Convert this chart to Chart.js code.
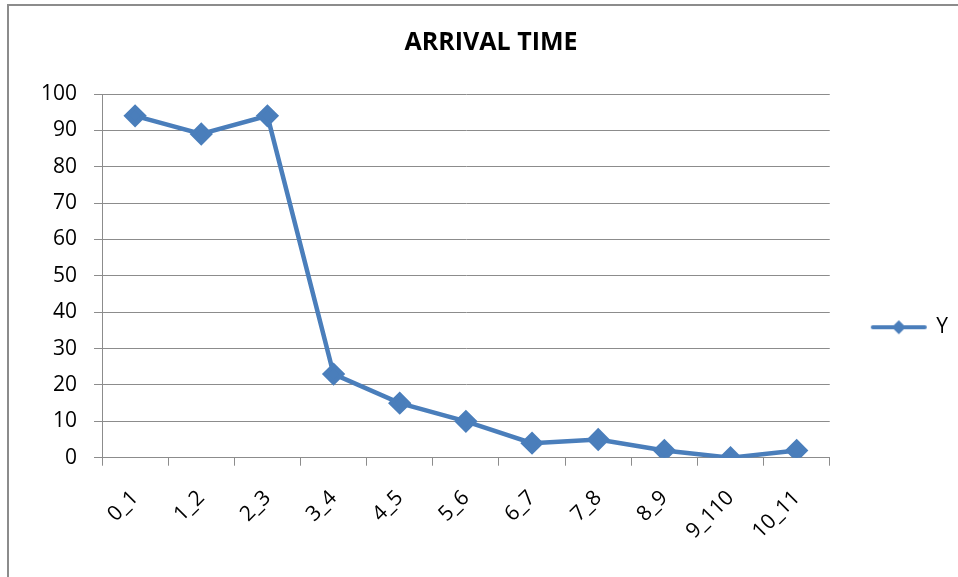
<!DOCTYPE html>
<html>
<head>
<meta charset="utf-8">
<script src="https://cdn.jsdelivr.net/npm/chart.js@4"></script>
<style>
  html, body { margin: 0; padding: 0; background: #fff; }
  #wrap { position: relative; width: 958px; height: 577px; overflow: hidden; }
  #frame { position: absolute; left: 7px; top: 4px; width: 1000px; height: 1000px;
           border-left: 2px solid #8c8c8c; border-top: 2px solid #8c8c8c; }
  canvas { position: absolute; left: 0; top: 0; }
</style>
</head>
<body>
<div id="wrap">
  <div id="frame"></div>
  <canvas id="myChart" width="958" height="577"></canvas>
</div>
<script>
const categories = ['0_1', '1_2', '2_3', '3_4', '4_5', '5_6', '6_7', '7_8', '8_9', '9_110', '10_11'];
const yValues = [94, 89, 94, 23, 15, 10, 4, 5, 2, 0, 2];
const yTicks = [0, 10, 20, 30, 40, 50, 60, 70, 80, 90, 100];

const blue = '#4a7ebb';
const fontFamily = "'Open Sans', 'Liberation Sans', sans-serif";

// legend marker: line with a diamond in the middle
const marker = document.createElement('canvas');
marker.width = 58;
marker.height = 18;
const m = marker.getContext('2d');
m.strokeStyle = blue;
m.lineWidth = 4;
m.lineCap = 'round';
m.beginPath();
m.moveTo(3, 9);
m.lineTo(55, 9);
m.stroke();
m.fillStyle = blue;
m.beginPath();
m.moveTo(29, 2);
m.lineTo(36, 9);
m.lineTo(29, 16);
m.lineTo(22, 9);
m.closePath();
m.fill();

const ctx = document.getElementById('myChart').getContext('2d');
const myChart = new Chart(ctx, {
    type: 'line',
    data: {
        labels: categories,
        datasets: [{
            label: 'Y',
            data: yValues,
            borderColor: blue,
            backgroundColor: blue,
            borderWidth: 4.5,
            pointStyle: 'rectRot',
            pointRadius: 8.5,
            pointHoverRadius: 8.5,
            fill: false,
            tension: 0
        }]
    },
    options: {
        responsive: false,
        animation: false,
        layout: { padding: { left: 24, right: 0, top: 6, bottom: 13 } },
        plugins: {
            title: {
                display: true,
                text: 'ARRIVAL TIME',
                color: '#000',
                font: { family: fontFamily, size: 25, weight: 'bold' },
                padding: { top: 22, bottom: 36 }
            },
            legend: {
                position: 'right',
                // empty legend title only pushes the entry down a little
                title: { display: true, text: '', padding: { top: 70, bottom: 0 } },
                labels: {
                    usePointStyle: true,
                    pointStyle: marker,
                    pointStyleWidth: 54,
                    color: '#000',
                    font: { family: fontFamily, size: 21 },
                    padding: 42
                }
            },
            tooltip: { enabled: false }
        },
        scales: {
            x: {
                offset: true,
                grid: {
                    offset: true,
                    drawOnChartArea: false,
                    drawTicks: true,
                    tickLength: 8,
                    color: '#8c8c8c'
                },
                border: { color: '#8c8c8c', width: 1 },
                ticks: {
                    minRotation: 45,
                    maxRotation: 45,
                    color: '#000',
                    padding: 20,
                    font: { family: fontFamily, size: 21 }
                }
            },
            y: {
                min: 0,
                max: 100,
                afterBuildTicks: (axis) => { axis.ticks = yTicks.map(v => ({ value: v })); },
                grid: {
                    color: '#8c8c8c',
                    tickLength: 8
                },
                border: { color: '#8c8c8c', width: 1 },
                ticks: {
                    color: '#000',
                    padding: 17,
                    font: { family: fontFamily, size: 21 }
                }
            }
        }
    }
});
</script>
</body>
</html>
